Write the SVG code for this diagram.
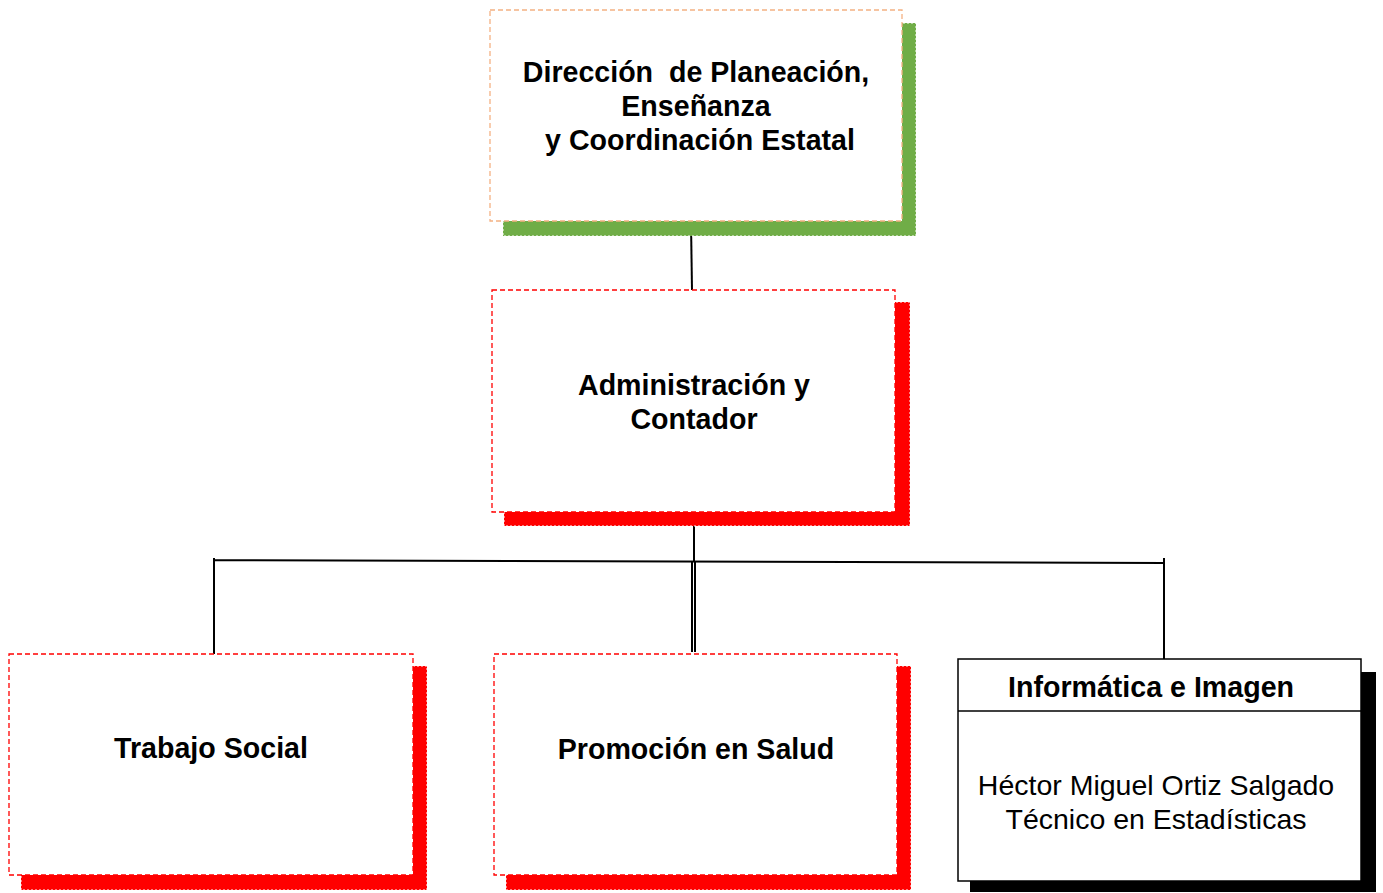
<svg xmlns="http://www.w3.org/2000/svg" width="1383" height="893" viewBox="0 0 1383 893">
<style>
.b{font-family:"Liberation Sans",Arial,sans-serif;font-weight:bold;font-size:28.6px;fill:#000;text-anchor:middle}
.r{font-family:"Liberation Sans",Arial,sans-serif;font-size:28.5px;fill:#000;text-anchor:middle}
.box{fill:#fff;stroke-width:1.3;stroke-dasharray:5 3}
.red{stroke:#ff0000}
.shr{fill:#ff0000;stroke:#fff;stroke-width:1;stroke-dasharray:2 2}
.ln{stroke:#000;stroke-width:2;fill:none}
</style>
<rect width="1383" height="893" fill="#fff"/>
<g id="connectors">
<line class="ln" x1="691" y1="222" x2="692" y2="290"/>
<line class="ln" x1="694" y1="512" x2="694" y2="561"/>
<polyline class="ln" points="214,654 214,558 214,560 1164,563"/>
<line class="ln" x1="1164" y1="558" x2="1164" y2="659"/>
<line class="ln" x1="692" y1="561" x2="692" y2="652"/>
<line class="ln" x1="695" y1="561" x2="695" y2="652"/>
</g>
<g id="n1">
<rect x="503" y="23" width="413" height="213" fill="#70ad47" stroke="#fff" stroke-width="1" stroke-dasharray="2 2"/>
<rect class="box" x="490" y="10" width="412" height="211" stroke="#f4b183"/>
<text class="b" x="696" y="82" xml:space="preserve">Dirección  de Planeación,</text>
<text class="b" x="696" y="116">Enseñanza</text>
<text class="b" x="700" y="150">y Coordinación Estatal</text>
</g>
<g id="n2">
<rect class="shr" x="504" y="302" width="406" height="224"/>
<rect class="box red" x="492" y="290" width="403" height="222"/>
<text class="b" x="694" y="395">Administración y</text>
<text class="b" x="694" y="429">Contador</text>
</g>
<g id="n3">
<rect class="shr" x="21" y="666" width="406" height="224"/>
<rect class="box red" x="9" y="654" width="404" height="221"/>
<text class="b" x="211" y="758">Trabajo Social</text>
</g>
<g id="n4">
<rect class="shr" x="506" y="666" width="405" height="224"/>
<rect class="box red" x="494" y="654" width="403" height="221"/>
<text class="b" x="696" y="759">Promoción en Salud</text>
</g>
<g id="n5">
<rect x="970" y="672" width="406" height="220" fill="#000"/>
<rect x="958" y="659" width="403" height="222" fill="#fff" stroke="#000" stroke-width="1.5"/>
<line x1="958" y1="711" x2="1361" y2="711" stroke="#000" stroke-width="1.5"/>
<text class="b" x="1151" y="697">Informática e Imagen</text>
<text class="r" x="1156" y="795">Héctor Miguel Ortiz Salgado</text>
<text class="r" x="1156" y="829">Técnico en Estadísticas</text>
</g>
</svg>
